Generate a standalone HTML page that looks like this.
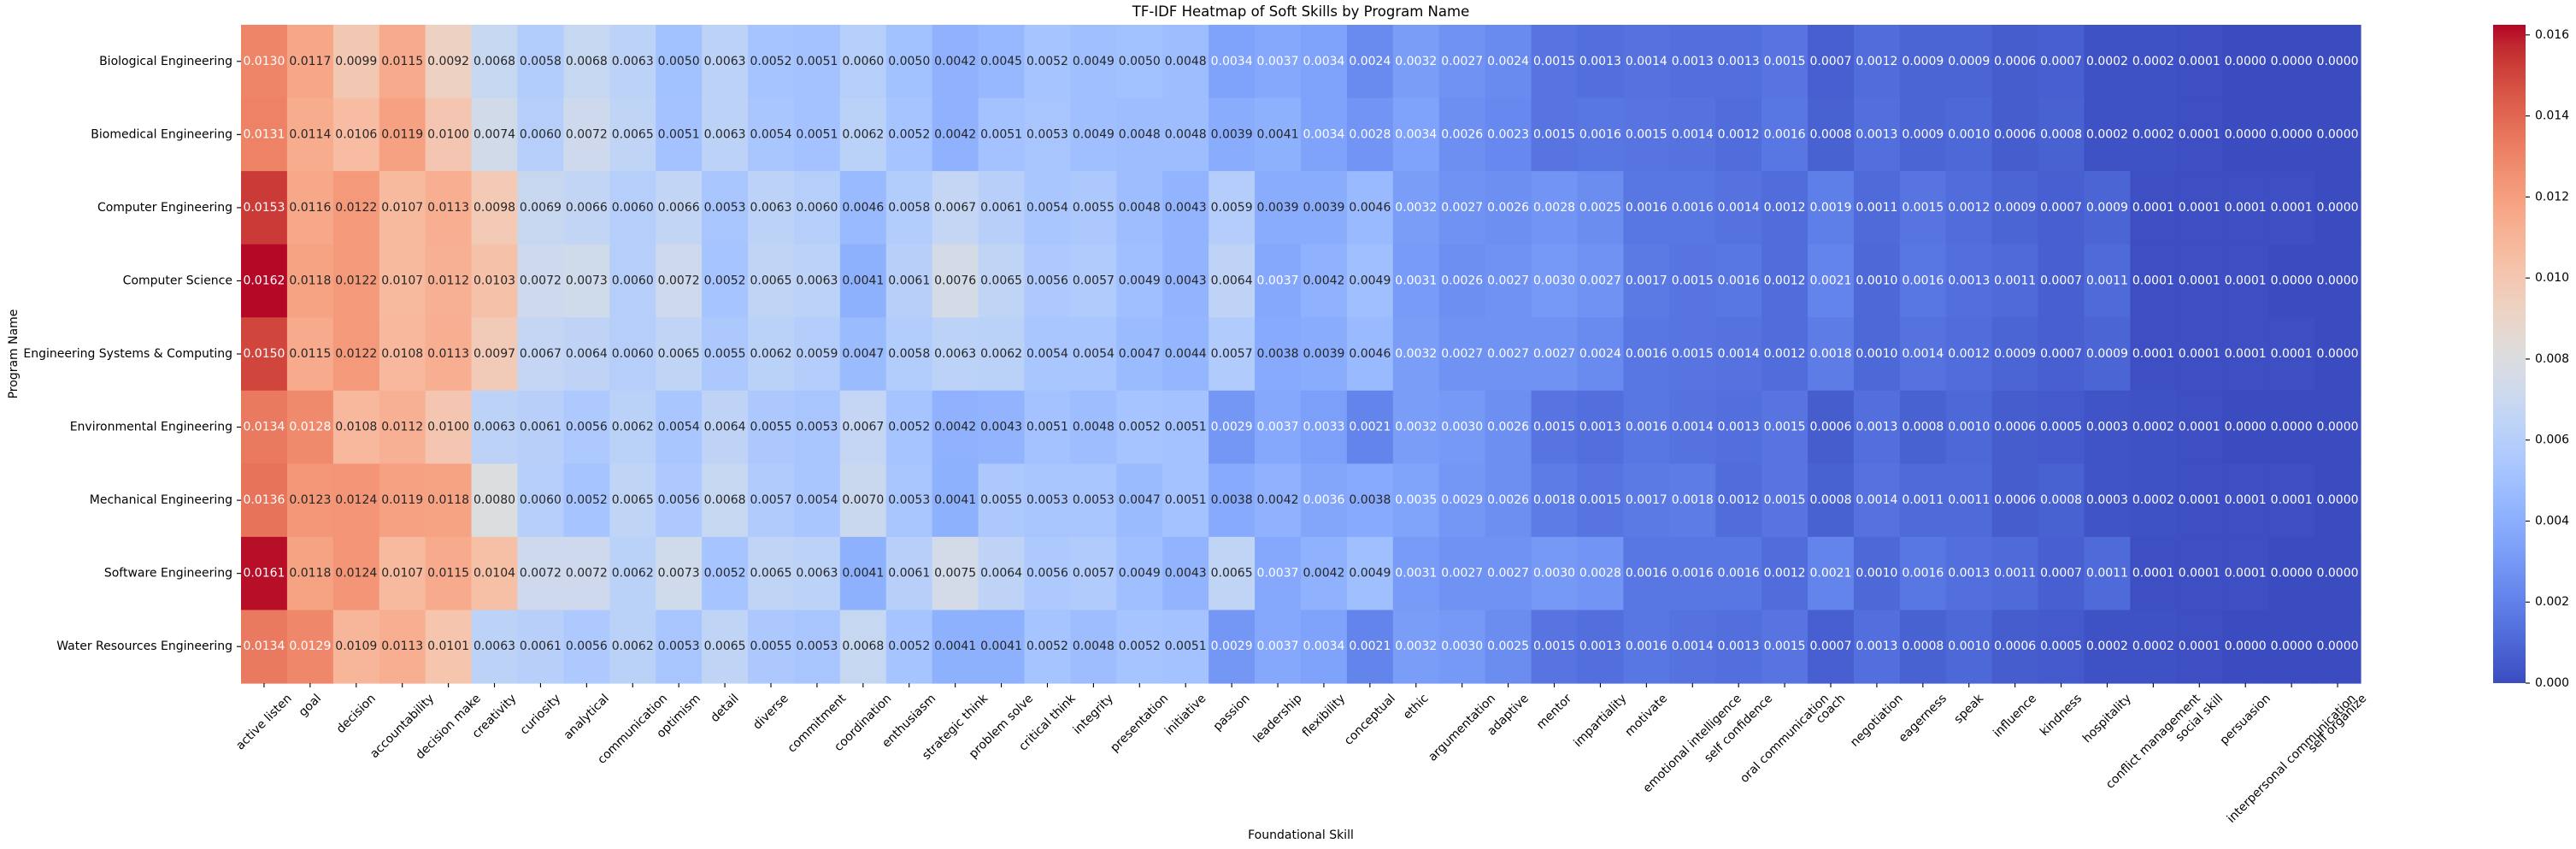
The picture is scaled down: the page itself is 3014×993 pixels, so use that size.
<!DOCTYPE html>
<html><head><meta charset="utf-8">
<style>
html,body{margin:0;padding:0;background:#fff;}
svg{display:block;font-family:"DejaVu Sans","Liberation Sans",sans-serif;}
</style></head>
<body>
<svg id="chart" width="3014" height="993" viewBox="0 0 3014 993" xmlns="http://www.w3.org/2000/svg">
<text x="1522" y="19" font-size="16.5" text-anchor="middle" fill="#000">TF-IDF Heatmap of Soft Skills by Program Name</text>
<text x="1522" y="981" font-size="14" text-anchor="middle" fill="#000">Foundational Skill</text>
<text x="0" y="0" font-size="14" text-anchor="middle" fill="#000" transform="translate(20,414) rotate(-90)">Program Name</text>
<g id="cells"></g>
<g id="annots"></g>
<g id="yticks"></g>
<g id="xticks"></g>
<g id="cbar"></g>
</svg>
<script>
const programs = ["Biological Engineering","Biomedical Engineering","Computer Engineering","Computer Science","Engineering Systems & Computing","Environmental Engineering","Mechanical Engineering","Software Engineering","Water Resources Engineering"];
const skills = ["active listen","goal","decision","accountability","decision make","creativity","curiosity","analytical","communication","optimism","detail","diverse","commitment","coordination","enthusiasm","strategic think","problem solve","critical think","integrity","presentation","initiative","passion","leadership","flexibility","conceptual","ethic","argumentation","adaptive","mentor","impartiality","motivate","emotional intelligence","self confidence","oral communication","coach","negotiation","eagerness","speak","influence","kindness","hospitality","conflict management","social skill","persuasion","interpersonal communication","self organize"];
const rowBiological = [0.0130,0.0117,0.0099,0.0115,0.0092,0.0068,0.0058,0.0068,0.0063,0.0050,0.0063,0.0052,0.0051,0.0060,0.0050,0.0042,0.0045,0.0052,0.0049,0.0050,0.0048,0.0034,0.0037,0.0034,0.0024,0.0032,0.0027,0.0024,0.0015,0.0013,0.0014,0.0013,0.0013,0.0015,0.0007,0.0012,0.0009,0.0009,0.0006,0.0007,0.0002,0.0002,0.0001,0.0000,0.0000,0.0000];
const rowBiomedical = [0.0131,0.0114,0.0106,0.0119,0.0100,0.0074,0.0060,0.0072,0.0065,0.0051,0.0063,0.0054,0.0051,0.0062,0.0052,0.0042,0.0051,0.0053,0.0049,0.0048,0.0048,0.0039,0.0041,0.0034,0.0028,0.0034,0.0026,0.0023,0.0015,0.0016,0.0015,0.0014,0.0012,0.0016,0.0008,0.0013,0.0009,0.0010,0.0006,0.0008,0.0002,0.0002,0.0001,0.0000,0.0000,0.0000];
const rowComputerEng = [0.0153,0.0116,0.0122,0.0107,0.0113,0.0098,0.0069,0.0066,0.0060,0.0066,0.0053,0.0063,0.0060,0.0046,0.0058,0.0067,0.0061,0.0054,0.0055,0.0048,0.0043,0.0059,0.0039,0.0039,0.0046,0.0032,0.0027,0.0026,0.0028,0.0025,0.0016,0.0016,0.0014,0.0012,0.0019,0.0011,0.0015,0.0012,0.0009,0.0007,0.0009,0.0001,0.0001,0.0001,0.0001,0.0000];
const rowComputerSci = [0.0162,0.0118,0.0122,0.0107,0.0112,0.0103,0.0072,0.0073,0.0060,0.0072,0.0052,0.0065,0.0063,0.0041,0.0061,0.0076,0.0065,0.0056,0.0057,0.0049,0.0043,0.0064,0.0037,0.0042,0.0049,0.0031,0.0026,0.0027,0.0030,0.0027,0.0017,0.0015,0.0016,0.0012,0.0021,0.0010,0.0016,0.0013,0.0011,0.0007,0.0011,0.0001,0.0001,0.0001,0.0000,0.0000];
const rowEngSystems = [0.0150,0.0115,0.0122,0.0108,0.0113,0.0097,0.0067,0.0064,0.0060,0.0065,0.0055,0.0062,0.0059,0.0047,0.0058,0.0063,0.0062,0.0054,0.0054,0.0047,0.0044,0.0057,0.0038,0.0039,0.0046,0.0032,0.0027,0.0027,0.0027,0.0024,0.0016,0.0015,0.0014,0.0012,0.0018,0.0010,0.0014,0.0012,0.0009,0.0007,0.0009,0.0001,0.0001,0.0001,0.0001,0.0000];
const rowEnvironmental = [0.0134,0.0128,0.0108,0.0112,0.0100,0.0063,0.0061,0.0056,0.0062,0.0054,0.0064,0.0055,0.0053,0.0067,0.0052,0.0042,0.0043,0.0051,0.0048,0.0052,0.0051,0.0029,0.0037,0.0033,0.0021,0.0032,0.0030,0.0026,0.0015,0.0013,0.0016,0.0014,0.0013,0.0015,0.0006,0.0013,0.0008,0.0010,0.0006,0.0005,0.0003,0.0002,0.0001,0.0000,0.0000,0.0000];
const rowMechanical = [0.0136,0.0123,0.0124,0.0119,0.0118,0.0080,0.0060,0.0052,0.0065,0.0056,0.0068,0.0057,0.0054,0.0070,0.0053,0.0041,0.0055,0.0053,0.0053,0.0047,0.0051,0.0038,0.0042,0.0036,0.0038,0.0035,0.0029,0.0026,0.0018,0.0015,0.0017,0.0018,0.0012,0.0015,0.0008,0.0014,0.0011,0.0011,0.0006,0.0008,0.0003,0.0002,0.0001,0.0001,0.0001,0.0000];
const rowSoftware = [0.0161,0.0118,0.0124,0.0107,0.0115,0.0104,0.0072,0.0072,0.0062,0.0073,0.0052,0.0065,0.0063,0.0041,0.0061,0.0075,0.0064,0.0056,0.0057,0.0049,0.0043,0.0065,0.0037,0.0042,0.0049,0.0031,0.0027,0.0027,0.0030,0.0028,0.0016,0.0016,0.0016,0.0012,0.0021,0.0010,0.0016,0.0013,0.0011,0.0007,0.0011,0.0001,0.0001,0.0001,0.0000,0.0000];
const rowWater = [0.0134,0.0129,0.0109,0.0113,0.0101,0.0063,0.0061,0.0056,0.0062,0.0053,0.0065,0.0055,0.0053,0.0068,0.0052,0.0041,0.0041,0.0052,0.0048,0.0052,0.0051,0.0029,0.0037,0.0034,0.0021,0.0032,0.0030,0.0025,0.0015,0.0013,0.0016,0.0014,0.0013,0.0015,0.0007,0.0013,0.0008,0.0010,0.0006,0.0005,0.0002,0.0002,0.0001,0.0000,0.0000,0.0000];
const colorbarTicks = [0.000,0.002,0.004,0.006,0.008,0.010,0.012,0.014,0.016];
const vmin = 0, vmax = 0.01625;

const matrix = [rowBiological,rowBiomedical,rowComputerEng,rowComputerSci,rowEngSystems,rowEnvironmental,rowMechanical,rowSoftware,rowWater];
const NS = "http://www.w3.org/2000/svg";
const L = 282, R = 2762, T = 29, B = 799;
const cw = (R - L) / skills.length, rh = (B - T) / programs.length;
const xPos = i => L + i * cw;
const yPos = j => T + j * rh;

const cmap = [[59,76,192],[68,90,204],[77,104,215],[87,117,225],[98,130,234],[108,142,241],[119,154,247],[130,165,251],[141,176,254],[152,185,255],[163,194,255],[174,201,253],[184,208,249],[194,213,244],[204,217,238],[213,219,230],[221,221,221],[229,216,209],[236,211,197],[241,204,185],[245,196,173],[247,187,160],[247,177,148],[247,166,135],[244,154,123],[241,141,111],[236,127,99],[229,112,88],[222,96,77],[213,80,66],[203,62,56],[192,40,47],[180,4,38]];
function colorAt(t){
  t = Math.max(0, Math.min(1, t));
  const p = t * (cmap.length - 1), i = Math.min(Math.floor(p), cmap.length - 2), f = p - i;
  return cmap[i].map((c, k) => Math.round(c + (cmap[i+1][k] - c) * f));
}
function lum(rgb){
  const c = rgb.map(v => { v /= 255; return v <= 0.03928 ? v / 12.92 : Math.pow((v + 0.055) / 1.055, 2.4); });
  return 0.2126*c[0] + 0.7152*c[1] + 0.0722*c[2];
}
const colorOf = v => colorAt((v - vmin) / (vmax - vmin));

const gCells = document.getElementById('cells');
const gAnn = document.getElementById('annots');
matrix.forEach((row, j) => {
  row.forEach((v, i) => {
    const rgb = colorOf(v);
    const r = document.createElementNS(NS, 'rect');
    r.setAttribute('x', xPos(i)); r.setAttribute('y', yPos(j));
    r.setAttribute('width', cw + 0.6); r.setAttribute('height', rh + 0.6);
    r.setAttribute('fill', `rgb(${rgb.join(',')})`);
    
    
    gCells.appendChild(r);
    const t = document.createElementNS(NS, 'text');
    t.setAttribute('x', xPos(i) + cw / 2); t.setAttribute('y', yPos(j) + rh / 2);
    t.setAttribute('text-anchor', 'middle'); t.setAttribute('dominant-baseline', 'central');
    t.setAttribute('font-size', '14');
    t.setAttribute('fill', lum(rgb) > 0.408 ? '#262626' : '#ffffff');
    t.textContent = v.toFixed(4);
    
    
    gAnn.appendChild(t);
  });
});

const gY = document.getElementById('yticks');
programs.forEach((p, j) => {
  const cy = yPos(j) + rh / 2;
  const ln = document.createElementNS(NS, 'line');
  ln.setAttribute('x1', L - 5); ln.setAttribute('x2', L); ln.setAttribute('y1', cy); ln.setAttribute('y2', cy);
  ln.setAttribute('stroke', '#000'); ln.setAttribute('stroke-width', '1.1');
  
  
  gY.appendChild(ln);
  const t = document.createElementNS(NS, 'text');
  t.setAttribute('x', L - 10); t.setAttribute('y', cy);
  t.setAttribute('text-anchor', 'end'); t.setAttribute('dominant-baseline', 'central');
  t.setAttribute('font-size', '14'); t.setAttribute('fill', '#000');
  t.textContent = p;
  
  
  gY.appendChild(t);
});

const gX = document.getElementById('xticks');
skills.forEach((s, i) => {
  const cx = xPos(i) + cw / 2;
  const ln = document.createElementNS(NS, 'line');
  ln.setAttribute('x1', cx); ln.setAttribute('x2', cx); ln.setAttribute('y1', B); ln.setAttribute('y2', B + 5);
  ln.setAttribute('stroke', '#000'); ln.setAttribute('stroke-width', '1.1');
  
  
  gX.appendChild(ln);
  const t = document.createElementNS(NS, 'text');
  t.setAttribute('font-size', '14'); t.setAttribute('fill', '#000');
  t.setAttribute('text-anchor', 'middle'); t.setAttribute('dominant-baseline', 'central');
  t.textContent = s;
  
  
  gX.appendChild(t);
  const w = t.getComputedTextLength(), h = 16;
  const bh = (w + h) * Math.SQRT1_2;
  const cy = B + 10 + bh / 2;
  t.setAttribute('x', 0); t.setAttribute('y', 0);
  t.setAttribute('transform', `translate(${cx},${cy}) rotate(-45)`);
});

const gC = document.getElementById('cbar');
const CL = 2917, CR = 2955;
const defs = document.createElementNS(NS, 'defs');
const grad = document.createElementNS(NS, 'linearGradient');
grad.setAttribute('id', 'cg'); grad.setAttribute('x1', '0'); grad.setAttribute('y1', '1'); grad.setAttribute('x2', '0'); grad.setAttribute('y2', '0');
cmap.forEach((c, k) => {
  const st = document.createElementNS(NS, 'stop');
  st.setAttribute('offset', k / (cmap.length - 1));
  st.setAttribute('stop-color', `rgb(${c.join(',')})`);
  grad.appendChild(st);
});
defs.appendChild(grad); gC.appendChild(defs);
const cb = document.createElementNS(NS, 'rect');
cb.setAttribute('x', CL); cb.setAttribute('y', T); cb.setAttribute('width', CR - CL); cb.setAttribute('height', B - T);
cb.setAttribute('fill', 'url(#cg)');


gC.appendChild(cb);
const cbY = v => B - (v - vmin) / (vmax - vmin) * (B - T);
colorbarTicks.forEach(v => {
  const y = cbY(v);
  const ln = document.createElementNS(NS, 'line');
  ln.setAttribute('x1', CR); ln.setAttribute('x2', CR + 5); ln.setAttribute('y1', y); ln.setAttribute('y2', y);
  ln.setAttribute('stroke', '#000'); ln.setAttribute('stroke-width', '1.1');
  
  
  gC.appendChild(ln);
  const t = document.createElementNS(NS, 'text');
  t.setAttribute('x', CR + 11); t.setAttribute('y', y);
  t.setAttribute('dominant-baseline', 'central');
  t.setAttribute('font-size', '14'); t.setAttribute('fill', '#000');
  t.textContent = v.toFixed(3);
  
  
  gC.appendChild(t);
});
</script>
</body></html>
